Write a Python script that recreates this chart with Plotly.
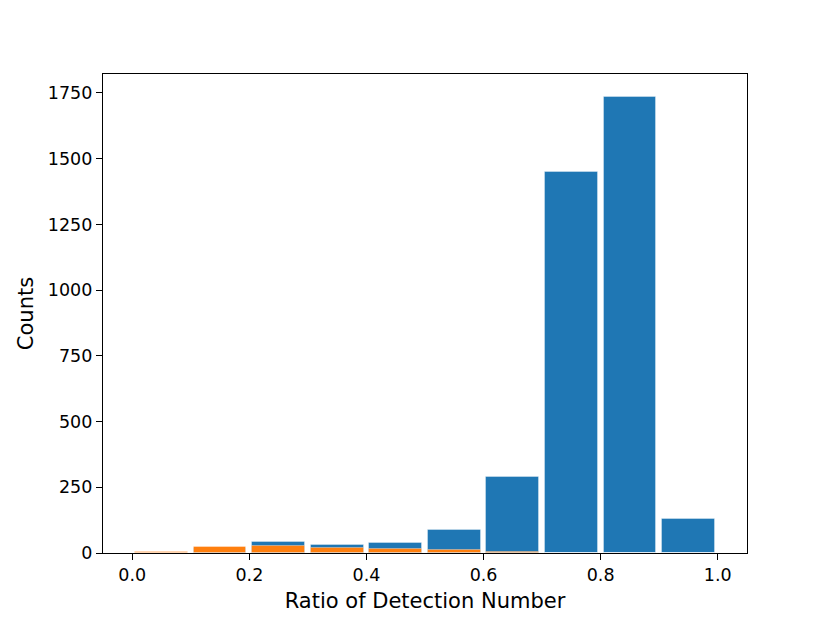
import plotly.graph_objects as go

# histogram bins (left edges) and counts
bin_left = [0.0, 0.1, 0.2, 0.3, 0.4, 0.5, 0.6, 0.7, 0.8, 0.9]
blue_counts = [0, 20, 42, 29, 39, 89, 289, 1449, 1735, 129]
orange_counts = [4, 23, 28, 20, 14, 11, 5, 0, 0, 0]

bin_width = 0.1
rwidth = 0.9
centers = [b + bin_width / 2 for b in bin_left]

fig = go.Figure()
fig.add_trace(go.Bar(x=centers, y=blue_counts, width=bin_width * rwidth,
                     marker=dict(color='#1f77b4', line=dict(color='rgba(255,255,255,0.35)', width=1))))
fig.add_trace(go.Bar(x=centers, y=orange_counts, width=bin_width * rwidth,
                     marker=dict(color='#ff7f0e', line=dict(color='rgba(255,255,255,0.35)', width=1))))

axis_style = dict(showline=True, linecolor='black', linewidth=1.2, mirror=True,
                  ticks='outside', ticklen=6, tickwidth=1.2, tickcolor='black',
                  showgrid=False, zeroline=False,
                  tickfont=dict(family='DejaVu Sans', size=17.5, color='black'))

fig.update_layout(
    width=830, height=623,
    margin=dict(l=95, r=91, t=66, b=78),
    barmode='overlay', bargap=0,
    showlegend=False,
    plot_bgcolor='white', paper_bgcolor='white',
    xaxis=dict(axis_style, range=[-0.05, 1.05], tickvals=[0, 0.2, 0.4, 0.6, 0.8, 1.0],
               tickformat='.1f',
               title=dict(text='Ratio of Detection Number', standoff=9,
                          font=dict(family='DejaVu Sans', size=21, color='black'))),
    yaxis=dict(axis_style, range=[0, 1822], tickvals=[0, 250, 500, 750, 1000, 1250, 1500, 1750],
               title=dict(text='Counts', standoff=8,
                          font=dict(family='DejaVu Sans', size=21, color='black'))),
)

fig.write_html("out.html")
